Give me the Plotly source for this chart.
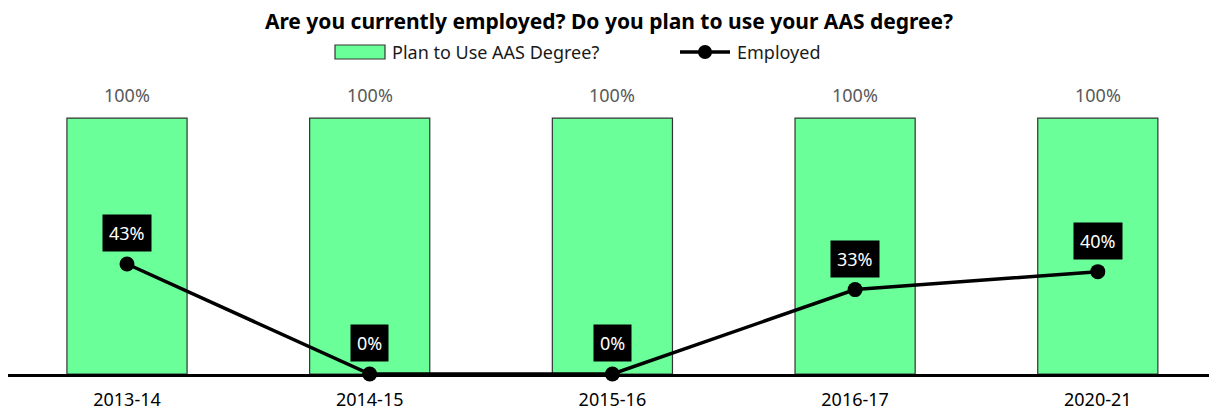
import plotly.graph_objects as go

categories = ["2013-14", "2014-15", "2015-16", "2016-17", "2020-21"]
plan_to_use = [1.00, 1.00, 1.00, 1.00, 1.00]
employed = [0.43, 0.00, 0.00, 0.33, 0.40]

title_text = "Are you currently employed? Do you plan to use your AAS degree?"
bar_name = "Plan to Use AAS Degree?"
line_name = "Employed"

FONT = "Noto Sans, Open Sans, sans-serif"
BAR_COLOR = "#6AFF99"

# page offset (body margin) is 8px; plot area spans page x 8..1217, y 67..374
PX0, PW = 8, 1209
PY_BOTTOM, PH = 374, 307


def px(xp):
    return (xp - PX0) / PW


def py(yp):
    return (PY_BOTTOM - yp) / PH


fig = go.Figure()
fig.add_trace(go.Bar(
    x=categories, y=plan_to_use, name=bar_name,
    marker=dict(color=BAR_COLOR, line=dict(color="#333333", width=1.2)),
    width=0.495, showlegend=False, hoverinfo="skip",
))
fig.add_trace(go.Scatter(
    x=categories, y=employed, name=line_name, mode="lines+markers",
    line=dict(color="black", width=3.5),
    marker=dict(color="black", size=15),
    showlegend=False, hoverinfo="skip", cliponaxis=False,
))

annotations = []
for c, v in zip(categories, plan_to_use):
    annotations.append(dict(
        x=c, y=v, xref="x", yref="y", text=f"{round(v*100)}%",
        showarrow=False, yshift=23, font=dict(family=FONT, size=18, color="#595959"),
    ))
for c, v in zip(categories, employed):
    annotations.append(dict(
        x=c, y=v, xref="x", yref="y", text=f"{round(v*100)}%",
        showarrow=False, yshift=31, bgcolor="black", borderpad=6,
        font=dict(family=FONT, size=18, color="white"),
    ))

# custom legend
legend_y = 52
shapes = [
    dict(type="rect", xref="paper", yref="paper",
         x0=px(335), x1=px(385), y0=py(45), y1=py(59),
         fillcolor=BAR_COLOR, line=dict(color="#333333", width=1.2)),
    dict(type="line", xref="paper", yref="paper",
         x0=px(680), x1=px(730), y0=py(legend_y), y1=py(legend_y),
         line=dict(color="black", width=3.5)),
    dict(type="circle", xref="paper", yref="paper",
         x0=px(698), x1=px(712), y0=py(45), y1=py(59),
         fillcolor="black", line=dict(color="black", width=0)),
]
annotations.append(dict(
    xref="paper", yref="paper", x=px(390), y=py(legend_y),
    xanchor="left", yanchor="middle", text=bar_name, showarrow=False,
    font=dict(family=FONT, size=18, color="#1a1a1a"),
))
annotations.append(dict(
    xref="paper", yref="paper", x=px(735), y=py(legend_y),
    xanchor="left", yanchor="middle", text=line_name, showarrow=False,
    font=dict(family=FONT, size=18, color="#1a1a1a"),
))

r0 = -(127 - PX0) / 242.7
r1 = r0 + PW / 242.7

fig.update_layout(
    width=1209, height=407,
    margin=dict(l=0, r=0, t=59, b=41, autoexpand=False),
    paper_bgcolor="white", plot_bgcolor="white",
    title=dict(text=f"<b>{title_text}</b>", x=601 / 1209, xanchor="center",
               y=1 - 14 / 407, yanchor="middle",
               font=dict(family=FONT, size=21, color="black")),
    xaxis=dict(showgrid=False, showline=True, linecolor="black", linewidth=2.5,
               ticks="", tickfont=dict(family=FONT, size=18, color="black"),
               ticklabelstandoff=8, range=[r0, r1]),
    yaxis=dict(range=[0, 1.2], visible=False),
    annotations=annotations, shapes=shapes,
)

fig.write_html("out.html")
